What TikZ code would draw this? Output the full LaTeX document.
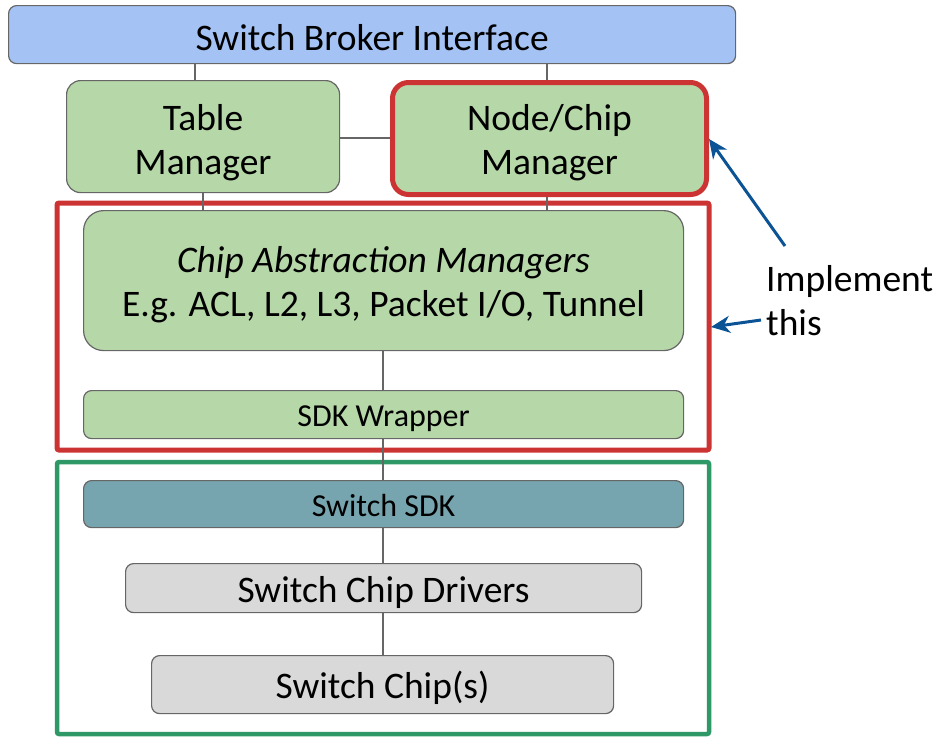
\documentclass[tikz,border=0pt]{standalone}
\usepackage{fontspec}
\setmainfont{Carlito}
\usetikzlibrary{arrows.meta}
\definecolor{blueF}{HTML}{A4C2F4}
\definecolor{greenF}{HTML}{B6D7A8}
\definecolor{tealF}{HTML}{76A5AF}
\definecolor{grayF}{HTML}{D9D9D9}
\definecolor{edgeC}{HTML}{666666}
\definecolor{redC}{HTML}{CC3333}
\definecolor{grnC}{HTML}{2E9966}
\definecolor{navy}{HTML}{0B5394}
\tikzset{
  box/.style={draw=edgeC, line width=1.2pt, rounded corners=8pt, inner sep=0pt, anchor=north west},
  big/.style={font=\fontsize{37.5}{44}\selectfont, align=center, inner sep=0pt},
  small/.style={font=\fontsize{32}{38}\selectfont, inner sep=0pt},
  link/.style={draw=edgeC, line width=1.2pt},
  callout/.style={draw=navy, line width=3pt, -{Stealth[length=19pt,width=17pt,inset=6pt]}}
}
\begin{document}
\begin{tikzpicture}[x=1pt,y=-1pt]
\useasboundingbox (0,0) rectangle (944,737);
% outer frames
\draw[redC, line width=5pt, rounded corners=2pt] (57,203) rectangle (709,450);
\draw[grnC, line width=4.5pt, rounded corners=2pt] (57,462) rectangle (709,734);
% boxes
\node[box, fill=blueF, minimum width=727pt, minimum height=58pt] (sbi) at (8,5) {};
\node[box, fill=greenF, minimum width=273pt, minimum height=112pt, rounded corners=14pt] (tm) at (66,80) {};
\node[box, draw=redC, line width=5pt, fill=greenF, minimum width=314pt, minimum height=112pt, rounded corners=16pt] (nc) at (390,80) {};
\node[box, fill=greenF, minimum width=600pt, minimum height=140pt, rounded corners=20pt] (cam) at (83,210) {};
\node[box, fill=greenF, minimum width=600pt, minimum height=48pt] (sdkw) at (83,390) {};
\node[box, fill=tealF, minimum width=600pt, minimum height=47pt] (sdk) at (83,480) {};
\node[box, fill=grayF, minimum width=516pt, minimum height=49pt] (drv) at (125,563) {};
\node[box, fill=grayF, minimum width=462pt, minimum height=58pt] (chip) at (151,655) {};
% texts
\node[big, yshift=-3pt] (sbiT) at (sbi.center) {Switch Broker Interface};
\node[big, yshift=-6pt] (tmT) at (tm.center) {Table\\Manager};
\node[big, yshift=-4pt] (ncT) at (nc.center) {Node/Chip\\Manager};
\node[big, yshift=-4pt] (camT) at (cam.center) {\textit{Chip Abstraction Managers}\\E.g. ACL, L2, L3, Packet I/O, Tunnel};
\node[small, yshift=-4pt] (sdkwT) at (sdkw.center) {SDK Wrapper};
\node[small, yshift=-1pt] (sdkT) at (sdk.center) {Switch SDK};
\node[big, yshift=-4pt] (drvT) at (drv.center) {Switch Chip Drivers};
\node[big, yshift=-3pt] (chipT) at (chip.center) {Switch Chip(s)};
\node[anchor=north west, big, align=left] (impl) at (766,265) {Implement\\this};
% connectors
\draw[link] (sbi.south -| 195,0) -- (tm.north -| 195,0);
\draw[link] (sbi.south -| 547,0) -- (nc.north -| 547,0);
\draw[link] (tm.east |- 0,138) -- (nc.west |- 0,138);
\draw[link] (tm.south -| 203,0) -- (cam.north -| 203,0);
\draw[link] (nc.south -| 547,0) -- (cam.north -| 547,0);
\draw[link] (cam.south -| 383,0) -- (sdkw.north -| 383,0);
\draw[link] (sdkw.south -| 383,0) -- (sdk.north -| 383,0);
\draw[link] (sdk.south -| 383,0) -- (drv.north -| 383,0);
\draw[link] (drv.south -| 383,0) -- (chip.north -| 383,0);
% callouts
\coordinate (a1) at (785,246);
\coordinate (a2) at (761,320);
\draw[callout] (a1) -- (nc.east |- 0,139);
\draw[callout] (a2) -- (711,327);
\end{tikzpicture}
\end{document}
